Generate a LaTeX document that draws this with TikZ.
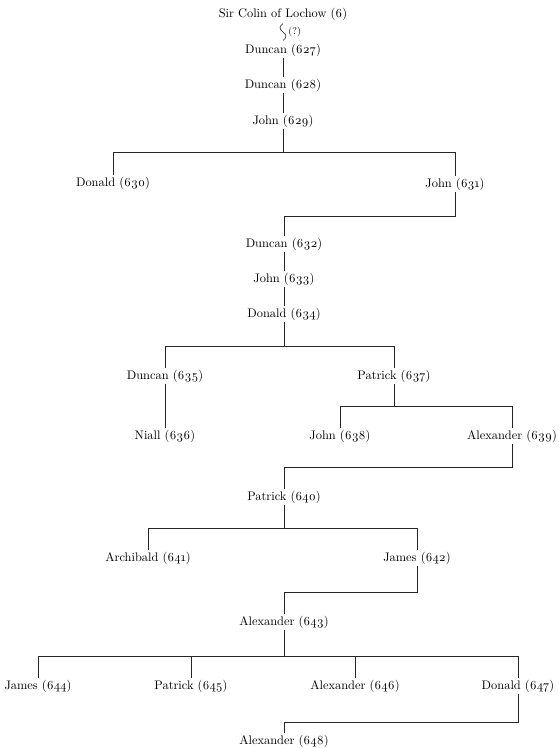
\documentclass[tikz,border=0pt]{standalone}
\usepackage{fontspec}
\setmainfont{lmroman10-regular.otf}[Numbers=OldStyle]
\usetikzlibrary{calc}
\begin{document}
\begin{tikzpicture}[x=1pt,y=-1pt,
  person/.style={inner sep=1.2pt, font=\fontsize{12.4}{14}\selectfont, text=black},
  line/.style={draw=black!85, line width=0.6pt}]
\useasboundingbox (0,0) rectangle (559,748);
\node[person] (c6) at (283,14) {Sir Colin of Lochow (6)};
\node[person] (d627) at (283,50) {Duncan (627)};
\node[person] (d628) at (283,85) {Duncan (628)};
\node[person] (j629) at (283,121) {John (629)};
\node[person] (d630) at (113,183) {Donald (630)};
\node[person] (j631) at (455,184) {John (631)};
\node[person] (d632) at (284,244) {Duncan (632)};
\node[person] (j633) at (284,279) {John (633)};
\node[person] (d634) at (284,314) {Donald (634)};
\node[person] (d635) at (165,376) {Duncan (635)};
\node[person] (p637) at (394,376) {Patrick (637)};
\node[person] (n636) at (165,436) {Niall (636)};
\node[person] (j638) at (340,436) {John (638)};
\node[person] (a639) at (512,436) {Alexander (639)};
\node[person] (p640) at (284,497) {Patrick (640)};
\node[person] (a641) at (148,558) {Archibald (641)};
\node[person] (j642) at (417,558) {James (642)};
\node[person] (a643) at (284,622) {Alexander (643)};
\node[person] (j644) at (38,686) {James (644)};
\node[person] (p645) at (191,686) {Patrick (645)};
\node[person] (a646) at (355,686) {Alexander (646)};
\node[person] (d647) at (518,686) {Donald (647)};
\node[person] (a648) at (284,741) {Alexander (648)};
\node[person, anchor=west, font=\fontsize{10}{11}\selectfont] (q) at (287,32) {(?)};
% squiggle
\path (c6.south) ++(0,2) coordinate (sqa);
\path (d627.north) ++(0,-2) coordinate (sqb);
\coordinate (sqm) at ($(sqa)!0.5!(sqb)$);
\draw[line] (sqa) .. controls +(-4,3) and +(-4,-3) .. (sqm) .. controls +(4,3) and +(4,-3) .. (sqb);
% bar levels
\coordinate (b1) at (0,152);
\coordinate (b2) at (0,216);
\coordinate (b3) at (0,346);
\coordinate (b4) at (0,406);
\coordinate (b5) at (0,467);
\coordinate (b6) at (0,528);
\coordinate (b7) at (0,592);
\coordinate (b8) at (0,656);
\coordinate (b9) at (0,722);
% straight descents
\draw[line] (d627.south) -- (d628.north);
\draw[line] (d628.south) -- (j629.north);
\draw[line] (d632.south) -- (j633.north);
\draw[line] (j633.south) -- (d634.north);
\draw[line] (d635.south) -- (n636.north);
% families
\draw[line] (j629.south) -- (j629.south |- b1);
\draw[line] (d630.north) -- (d630.north |- b1) -- (j631.north |- b1) -- (j631.north);
\draw[line] (j631.south) -- (j631.south |- b2) -- (d632.north |- b2) -- (d632.north);
\draw[line] (d634.south) -- (d634.south |- b3);
\draw[line] (d635.north) -- (d635.north |- b3) -- (p637.north |- b3) -- (p637.north);
\draw[line] (p637.south) -- (p637.south |- b4);
\draw[line] (j638.north) -- (j638.north |- b4) -- (a639.north |- b4) -- (a639.north);
\draw[line] (a639.south) -- (a639.south |- b5) -- (p640.north |- b5) -- (p640.north);
\draw[line] (p640.south) -- (p640.south |- b6);
\draw[line] (a641.north) -- (a641.north |- b6) -- (j642.north |- b6) -- (j642.north);
\draw[line] (j642.south) -- (j642.south |- b7) -- (a643.north |- b7) -- (a643.north);
\draw[line] (a643.south) -- (a643.south |- b8);
\draw[line] (j644.north) -- (j644.north |- b8) -- (d647.north |- b8) -- (d647.north);
\draw[line] (p645.north) -- (p645.north |- b8);
\draw[line] (a646.north) -- (a646.north |- b8);
\draw[line] (d647.south) -- (d647.south |- b9) -- (a648.north |- b9) -- (a648.north);
\end{tikzpicture}
\end{document}
